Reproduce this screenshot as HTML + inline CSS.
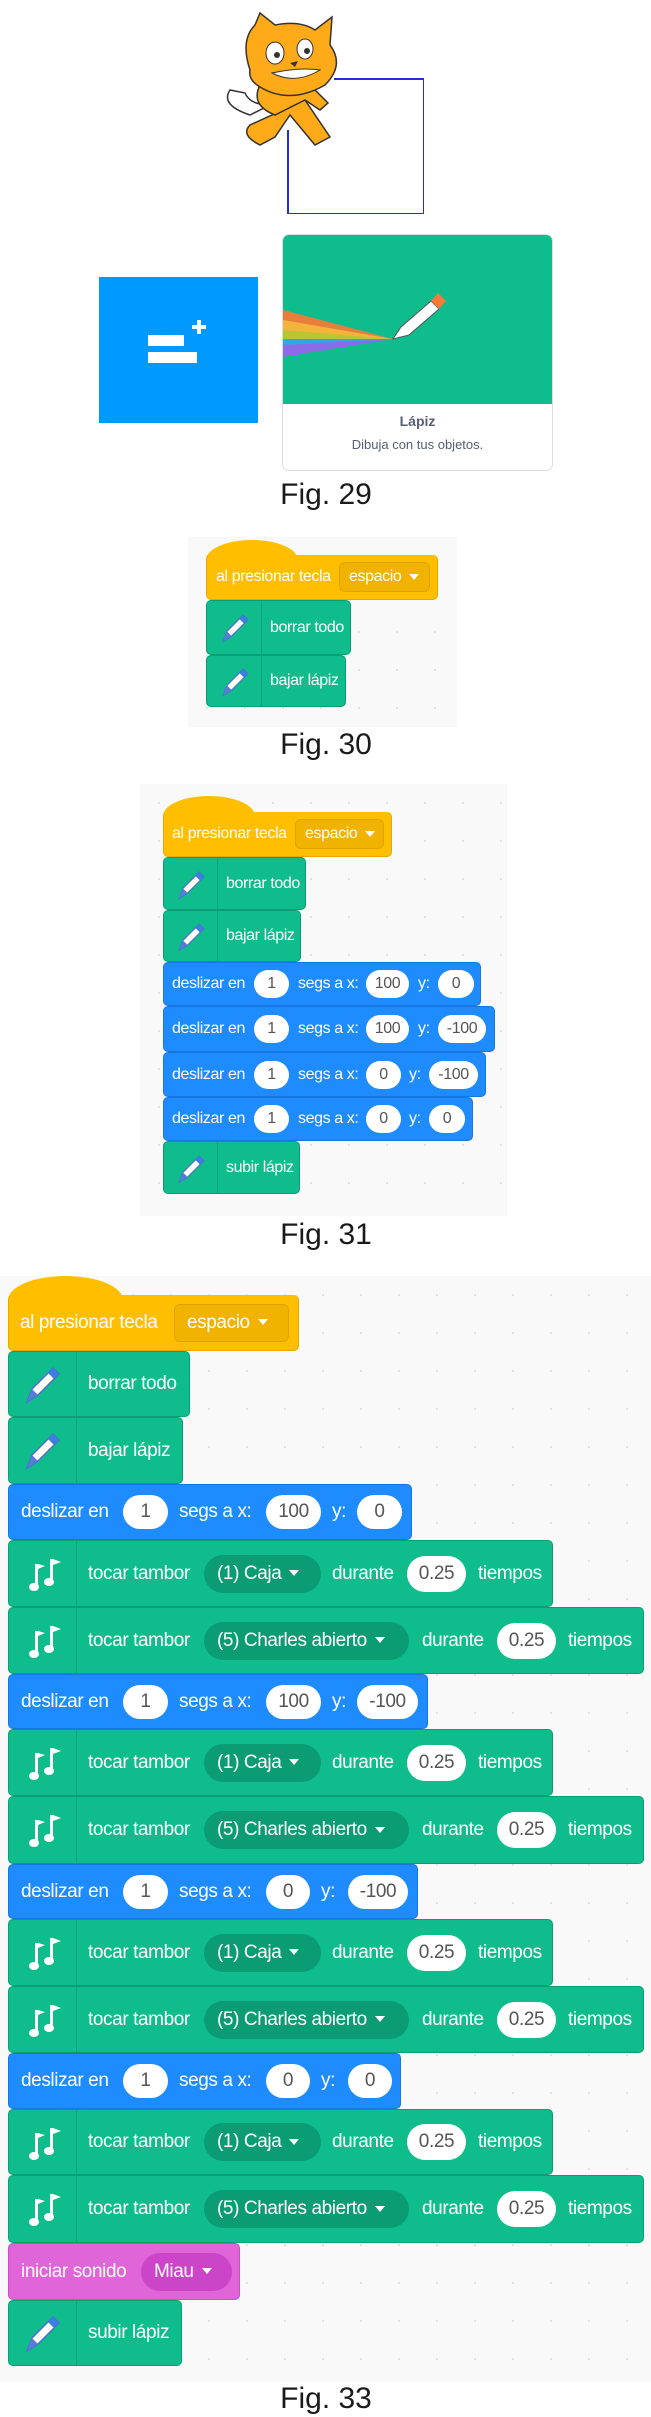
<!DOCTYPE html>
<html><head><meta charset="utf-8">
<style>
*{margin:0;padding:0;box-sizing:border-box}
body{width:651px;height:2417px;background:#fff;position:relative;overflow:hidden;font-family:"Liberation Sans",sans-serif}
.a{position:absolute}
.bg{position:absolute;background-color:#f9f9f9;background-image:radial-gradient(#e2e2e2 1px,transparent 1.3px);background-size:38px 38px}
.b{position:absolute;border-radius:5px;color:#fff}
.g{background:#0fbd8c;border:1px solid #0b9e75}
.bl{background:#1e8cff;border:1px solid #1577de}
.o{background:#ffbf00;border:1px solid #e6a800}
.p{background:#e065d8;border:1px solid #c94fc2}
.hump{position:absolute;border-radius:50% 50% 0 0;background:#ffbf00}
.b span{position:absolute;top:50%;transform:translateY(-50%);white-space:nowrap;letter-spacing:-0.4px}
.ov{background:#fff;color:#555;border-radius:20px;text-align:center}
.dd{border-radius:6px;background:#f2b200;border:1px solid #e0a200}
.dg{background:#0b9c73;border-radius:20px}
.dp{background:#cc44c8;border-radius:20px}
.sep{position:absolute;top:0;bottom:0;width:1px;background:#0ca57a}
.cap{position:absolute;font-size:30px;color:#1a1a1a;text-align:center;width:200px;line-height:1}
.tri{display:inline-block;width:0;height:0;border-left:5px solid transparent;border-right:5px solid transparent;border-top:6px solid #fff;vertical-align:middle;margin-left:8px}
.f33{font-size:19px}
.f31{font-size:16px}
</style></head><body>
<svg width="0" height="0" style="position:absolute">
<defs>
<symbol id="pen" viewBox="0 0 40 40"><path d="M4 38 L9 25 L30 4 L36 10 L15 31 Z" fill="#fff" stroke="#4a6fd0" stroke-width="1.5"/><path d="M25 9 L30 4 L36 10 L31 15 Z" fill="#3d7ee0"/><path d="M4 38 L9 25 L15 31 Z" fill="#5a7bd8"/></symbol>
<symbol id="mus" viewBox="0 0 40 40"><g fill="#fff"><rect x="10" y="10" width="3" height="22"/><path d="M13 10 L20 12 L13 15Z"/><ellipse cx="9" cy="33" rx="5" ry="4"/><rect x="25" y="5" width="3" height="22"/><path d="M28 5 L36 8 L28 11Z"/><ellipse cx="24" cy="28" rx="5" ry="4"/></g></symbol>
</defs></svg>

<!-- Fig 29 -->
<svg class="a" style="left:220px;top:5px" width="140" height="145" viewBox="0 0 140 145">
<g stroke="#333" stroke-width="1.5" fill="#ffab19">
<path d="M30 120 Q20 130 40 140 L55 132 L70 110 L95 140 L110 132 L85 95 Z"/>
<path d="M10 85 Q0 100 30 110 L50 100 Q30 100 25 88 Z" fill="#fff"/>
<path d="M40 80 Q30 100 55 110 L85 95 L100 105 L108 98 L90 80 Q70 70 40 80Z"/>
<path d="M30 65 Q20 35 35 20 L40 8 L55 20 Q80 15 95 25 L112 12 L110 40 Q125 60 105 80 Q70 100 40 82 Q28 75 30 65Z"/>
</g>
<ellipse cx="55" cy="48" rx="9" ry="11" fill="#fff" stroke="#333"/><ellipse cx="85" cy="44" rx="8" ry="10" fill="#fff" stroke="#333"/>
<circle cx="57" cy="50" r="3" fill="#333"/><circle cx="87" cy="46" r="3" fill="#333"/>
<path d="M52 68 Q75 80 100 65 Q80 62 52 68Z" fill="#fff" stroke="#333"/>
<path d="M70 58 L78 56 L75 62Z" fill="#333"/>
</svg>
<div class="a" style="left:287px;top:78px;width:137px;height:136px;border:1.5px solid #2a2ae0;border-top:none;border-left:none"></div>
<div class="a" style="left:334px;top:78px;width:90px;height:1.5px;background:#2a2ae0"></div>
<div class="a" style="left:287px;top:130px;width:1.5px;height:84px;background:#2a2ae0"></div>

<div class="a" style="left:99px;top:277px;width:159px;height:146px;background:#0099ff"></div>
<div class="a" style="left:148px;top:335px;width:36px;height:11px;background:#fff"></div>
<div class="a" style="left:148px;top:352px;width:49px;height:11px;background:#fff"></div>
<div class="a" style="left:192px;top:325px;width:14px;height:4px;background:#fff"></div>
<div class="a" style="left:197px;top:320px;width:4px;height:14px;background:#fff"></div>

<div class="a" style="left:282px;top:234px;width:271px;height:237px;border:1.5px solid #d9dde3;border-radius:7px;overflow:hidden;background:#fff">
 <div class="a" style="left:0;top:0;width:100%;height:169px;background:#0fbd8c">
  <svg width="271" height="169" viewBox="0 0 271 169">
   <polygon points="0,75 110,104 0,90" fill="#e87e3c"/>
   <polygon points="0,85 110,104 0,100" fill="#f4b43b"/>
   <polygon points="0,95 110,104 0,108" fill="#b9c630"/>
   <polygon points="0,104 110,104 0,115" fill="#2fa8e0"/>
   <polygon points="0,110 110,104 0,122" fill="#8a6be8"/>
   <path d="M110 104 L118 92 L148 66 L156 74 L126 100 Z" fill="#fff" stroke="#555" stroke-width="1"/>
   <path d="M148 66 L155 58 L163 66 L156 74Z" fill="#f47b3c"/>
  </svg>
 </div>
 <div class="a" style="left:0;top:178px;width:100%;text-align:center;font-size:14px;font-weight:bold;color:#575e75">Lápiz</div>
 <div class="a" style="left:0;top:202px;width:100%;text-align:center;font-size:13px;color:#575e75">Dibuja con tus objetos.</div>
</div>
<div class="cap" style="left:226px;top:480px">Fig. 29</div>

<!-- Fig 30 -->
<div class="bg" style="left:188px;top:537px;width:269px;height:190px"></div>
<div class="hump" style="left:206px;top:540px;width:92px;height:40px"></div>
<div class="b o f31" style="left:206px;top:555px;width:232px;height:45px;border-top:none"><span style="left:9px">al presionar tecla</span><span class="dd" style="left:132px;width:91px;height:30px;line-height:28px;padding-left:9px">espacio<i class="tri"></i></span></div>
<div class="b g f31" style="left:206px;top:600px;width:145px;height:55px"><svg class="a" style="left:13px;top:11px" width="31" height="31"><use href="#pen" width="100%" height="100%"/></svg><div class="sep" style="left:54px"></div><span style="left:63px">borrar todo</span></div>
<div class="b g f31" style="left:206px;top:655px;width:140px;height:52px"><svg class="a" style="left:13px;top:10px" width="31" height="31"><use href="#pen" width="100%" height="100%"/></svg><div class="sep" style="left:54px"></div><span style="left:63px">bajar lápiz</span></div>
<div class="cap" style="left:226px;top:730px">Fig. 30</div>

<!-- Fig 31 -->
<div class="bg" style="left:140px;top:784px;width:367px;height:432px"></div>
<div class="hump" style="left:163px;top:796px;width:92px;height:40px"></div>
<div class="b o f31" style="left:163px;top:812px;width:229px;height:45px;border-top:none"><span style="left:8px">al presionar tecla</span><span class="dd" style="left:131px;width:89px;height:30px;line-height:28px;padding-left:9px">espacio<i class="tri"></i></span></div>
<div class="b g f31" style="left:163px;top:857px;width:143px;height:53px"><svg class="a" style="left:12px;top:11px" width="31" height="31"><use href="#pen" width="100%" height="100%"/></svg><div class="sep" style="left:53px"></div><span style="left:62px">borrar todo</span></div>
<div class="b g f31" style="left:163px;top:910px;width:138px;height:52px"><svg class="a" style="left:12px;top:10px" width="31" height="31"><use href="#pen" width="100%" height="100%"/></svg><div class="sep" style="left:53px"></div><span style="left:62px">bajar lápiz</span></div>
<div class="b bl f31" style="left:163px;top:962px;width:318px;height:44px"><span style="left:8px">deslizar en</span><span class="ov" style="left:90px;width:35px;height:28px;line-height:28px">1</span><span style="left:134px">segs a x:</span><span class="ov" style="left:202px;width:43px;height:28px;line-height:28px">100</span><span style="left:254px">y:</span><span class="ov" style="left:274px;width:36px;height:28px;line-height:28px">0</span></div>
<div class="b bl f31" style="left:163px;top:1006px;width:332px;height:46px"><span style="left:8px">deslizar en</span><span class="ov" style="left:90px;width:35px;height:28px;line-height:28px">1</span><span style="left:134px">segs a x:</span><span class="ov" style="left:202px;width:43px;height:28px;line-height:28px">100</span><span style="left:254px">y:</span><span class="ov" style="left:274px;width:48px;height:28px;line-height:28px">-100</span></div>
<div class="b bl f31" style="left:163px;top:1052px;width:323px;height:45px"><span style="left:8px">deslizar en</span><span class="ov" style="left:90px;width:35px;height:28px;line-height:28px">1</span><span style="left:134px">segs a x:</span><span class="ov" style="left:202px;width:35px;height:28px;line-height:28px">0</span><span style="left:245px">y:</span><span class="ov" style="left:265px;width:49px;height:28px;line-height:28px">-100</span></div>
<div class="b bl f31" style="left:163px;top:1097px;width:310px;height:44px"><span style="left:8px">deslizar en</span><span class="ov" style="left:90px;width:35px;height:28px;line-height:28px">1</span><span style="left:134px">segs a x:</span><span class="ov" style="left:202px;width:35px;height:28px;line-height:28px">0</span><span style="left:245px">y:</span><span class="ov" style="left:265px;width:36px;height:28px;line-height:28px">0</span></div>
<div class="b g f31" style="left:163px;top:1141px;width:137px;height:53px"><svg class="a" style="left:12px;top:11px" width="31" height="31"><use href="#pen" width="100%" height="100%"/></svg><div class="sep" style="left:53px"></div><span style="left:62px">subir lápiz</span></div>
<div class="cap" style="left:226px;top:1220px">Fig. 31</div>

<!-- Fig 33 -->
<div class="bg" style="left:0;top:1276px;width:651px;height:1106px"></div>
<div class="hump" style="left:8px;top:1276px;width:115px;height:48px"></div>
<div class="b o f33" style="left:8px;top:1295px;width:291px;height:56px;border-top:none"><span style="left:11px">al presionar tecla</span><span class="dd" style="left:165px;width:115px;height:38px;line-height:36px;padding-left:12px">espacio<i class="tri"></i></span></div>
<div class="b g f33" style="left:8px;top:1351px;width:182px;height:66px"><svg class="a" style="left:14px;top:12px" width="40" height="40"><use href="#pen" width="100%" height="100%"/></svg><div class="sep" style="left:67px"></div><span style="left:79px">borrar todo</span></div>
<div class="b g f33" style="left:8px;top:1417px;width:175px;height:67px"><svg class="a" style="left:14px;top:12px" width="40" height="40"><use href="#pen" width="100%" height="100%"/></svg><div class="sep" style="left:67px"></div><span style="left:79px">bajar lápiz</span></div>

<div class="b bl f33" style="left:8px;top:1484px;width:404px;height:56px"><span style="left:12px">deslizar en</span><span class="ov" style="left:114px;width:45px;height:34px;line-height:34px">1</span><span style="left:170px">segs a x:</span><span class="ov" style="left:257px;width:55px;height:34px;line-height:34px">100</span><span style="left:323px">y:</span><span class="ov" style="left:348px;width:45px;height:34px;line-height:34px">0</span></div>
<div class="b g f33" style="left:8px;top:1540px;width:545px;height:67px"><svg class="a" style="left:16px;top:13px" width="40" height="40"><use href="#mus"/></svg><div class="sep" style="left:67px"></div><span style="left:79px">tocar tambor</span><span class="dg" style="left:195px;width:117px;height:38px;line-height:38px;padding-left:13px">(1) Caja<i class="tri"></i></span><span style="left:323px">durante</span><span class="ov" style="left:398px;width:59px;height:36px;line-height:36px">0.25</span><span style="left:469px">tiempos</span></div>
<div class="b g f33" style="left:8px;top:1607px;width:636px;height:67px"><svg class="a" style="left:16px;top:13px" width="40" height="40"><use href="#mus"/></svg><div class="sep" style="left:67px"></div><span style="left:79px">tocar tambor</span><span class="dg" style="left:195px;width:205px;height:38px;line-height:38px;padding-left:13px">(5) Charles abierto<i class="tri"></i></span><span style="left:413px">durante</span><span class="ov" style="left:488px;width:59px;height:36px;line-height:36px">0.25</span><span style="left:559px">tiempos</span></div>

<div class="b bl f33" style="left:8px;top:1674px;width:420px;height:55px"><span style="left:12px">deslizar en</span><span class="ov" style="left:114px;width:45px;height:34px;line-height:34px">1</span><span style="left:170px">segs a x:</span><span class="ov" style="left:257px;width:55px;height:34px;line-height:34px">100</span><span style="left:323px">y:</span><span class="ov" style="left:348px;width:61px;height:34px;line-height:34px">-100</span></div>
<div class="b g f33" style="left:8px;top:1729px;width:545px;height:67px"><svg class="a" style="left:16px;top:13px" width="40" height="40"><use href="#mus"/></svg><div class="sep" style="left:67px"></div><span style="left:79px">tocar tambor</span><span class="dg" style="left:195px;width:117px;height:38px;line-height:38px;padding-left:13px">(1) Caja<i class="tri"></i></span><span style="left:323px">durante</span><span class="ov" style="left:398px;width:59px;height:36px;line-height:36px">0.25</span><span style="left:469px">tiempos</span></div>
<div class="b g f33" style="left:8px;top:1796px;width:636px;height:68px"><svg class="a" style="left:16px;top:13px" width="40" height="40"><use href="#mus"/></svg><div class="sep" style="left:67px"></div><span style="left:79px">tocar tambor</span><span class="dg" style="left:195px;width:205px;height:38px;line-height:38px;padding-left:13px">(5) Charles abierto<i class="tri"></i></span><span style="left:413px">durante</span><span class="ov" style="left:488px;width:59px;height:36px;line-height:36px">0.25</span><span style="left:559px">tiempos</span></div>

<div class="b bl f33" style="left:8px;top:1864px;width:410px;height:55px"><span style="left:12px">deslizar en</span><span class="ov" style="left:114px;width:45px;height:34px;line-height:34px">1</span><span style="left:170px">segs a x:</span><span class="ov" style="left:257px;width:44px;height:34px;line-height:34px">0</span><span style="left:312px">y:</span><span class="ov" style="left:339px;width:60px;height:34px;line-height:34px">-100</span></div>
<div class="b g f33" style="left:8px;top:1919px;width:545px;height:67px"><svg class="a" style="left:16px;top:13px" width="40" height="40"><use href="#mus"/></svg><div class="sep" style="left:67px"></div><span style="left:79px">tocar tambor</span><span class="dg" style="left:195px;width:117px;height:38px;line-height:38px;padding-left:13px">(1) Caja<i class="tri"></i></span><span style="left:323px">durante</span><span class="ov" style="left:398px;width:59px;height:36px;line-height:36px">0.25</span><span style="left:469px">tiempos</span></div>
<div class="b g f33" style="left:8px;top:1986px;width:636px;height:67px"><svg class="a" style="left:16px;top:13px" width="40" height="40"><use href="#mus"/></svg><div class="sep" style="left:67px"></div><span style="left:79px">tocar tambor</span><span class="dg" style="left:195px;width:205px;height:38px;line-height:38px;padding-left:13px">(5) Charles abierto<i class="tri"></i></span><span style="left:413px">durante</span><span class="ov" style="left:488px;width:59px;height:36px;line-height:36px">0.25</span><span style="left:559px">tiempos</span></div>

<div class="b bl f33" style="left:8px;top:2053px;width:393px;height:56px"><span style="left:12px">deslizar en</span><span class="ov" style="left:114px;width:45px;height:34px;line-height:34px">1</span><span style="left:170px">segs a x:</span><span class="ov" style="left:257px;width:44px;height:34px;line-height:34px">0</span><span style="left:312px">y:</span><span class="ov" style="left:339px;width:44px;height:34px;line-height:34px">0</span></div>
<div class="b g f33" style="left:8px;top:2109px;width:545px;height:66px"><svg class="a" style="left:16px;top:13px" width="40" height="40"><use href="#mus"/></svg><div class="sep" style="left:67px"></div><span style="left:79px">tocar tambor</span><span class="dg" style="left:195px;width:117px;height:38px;line-height:38px;padding-left:13px">(1) Caja<i class="tri"></i></span><span style="left:323px">durante</span><span class="ov" style="left:398px;width:59px;height:36px;line-height:36px">0.25</span><span style="left:469px">tiempos</span></div>
<div class="b g f33" style="left:8px;top:2175px;width:636px;height:68px"><svg class="a" style="left:16px;top:13px" width="40" height="40"><use href="#mus"/></svg><div class="sep" style="left:67px"></div><span style="left:79px">tocar tambor</span><span class="dg" style="left:195px;width:205px;height:38px;line-height:38px;padding-left:13px">(5) Charles abierto<i class="tri"></i></span><span style="left:413px">durante</span><span class="ov" style="left:488px;width:59px;height:36px;line-height:36px">0.25</span><span style="left:559px">tiempos</span></div>

<div class="b p f33" style="left:8px;top:2243px;width:232px;height:57px"><span style="left:12px">iniciar sonido</span><span class="dp" style="left:132px;width:91px;height:38px;line-height:38px;padding-left:13px">Miau<i class="tri"></i></span></div>
<div class="b g f33" style="left:8px;top:2300px;width:174px;height:66px"><svg class="a" style="left:14px;top:12px" width="40" height="40"><use href="#pen" width="100%" height="100%"/></svg><div class="sep" style="left:67px"></div><span style="left:79px">subir lápiz</span></div>
<div class="cap" style="left:226px;top:2384px">Fig. 33</div>
</body></html>
